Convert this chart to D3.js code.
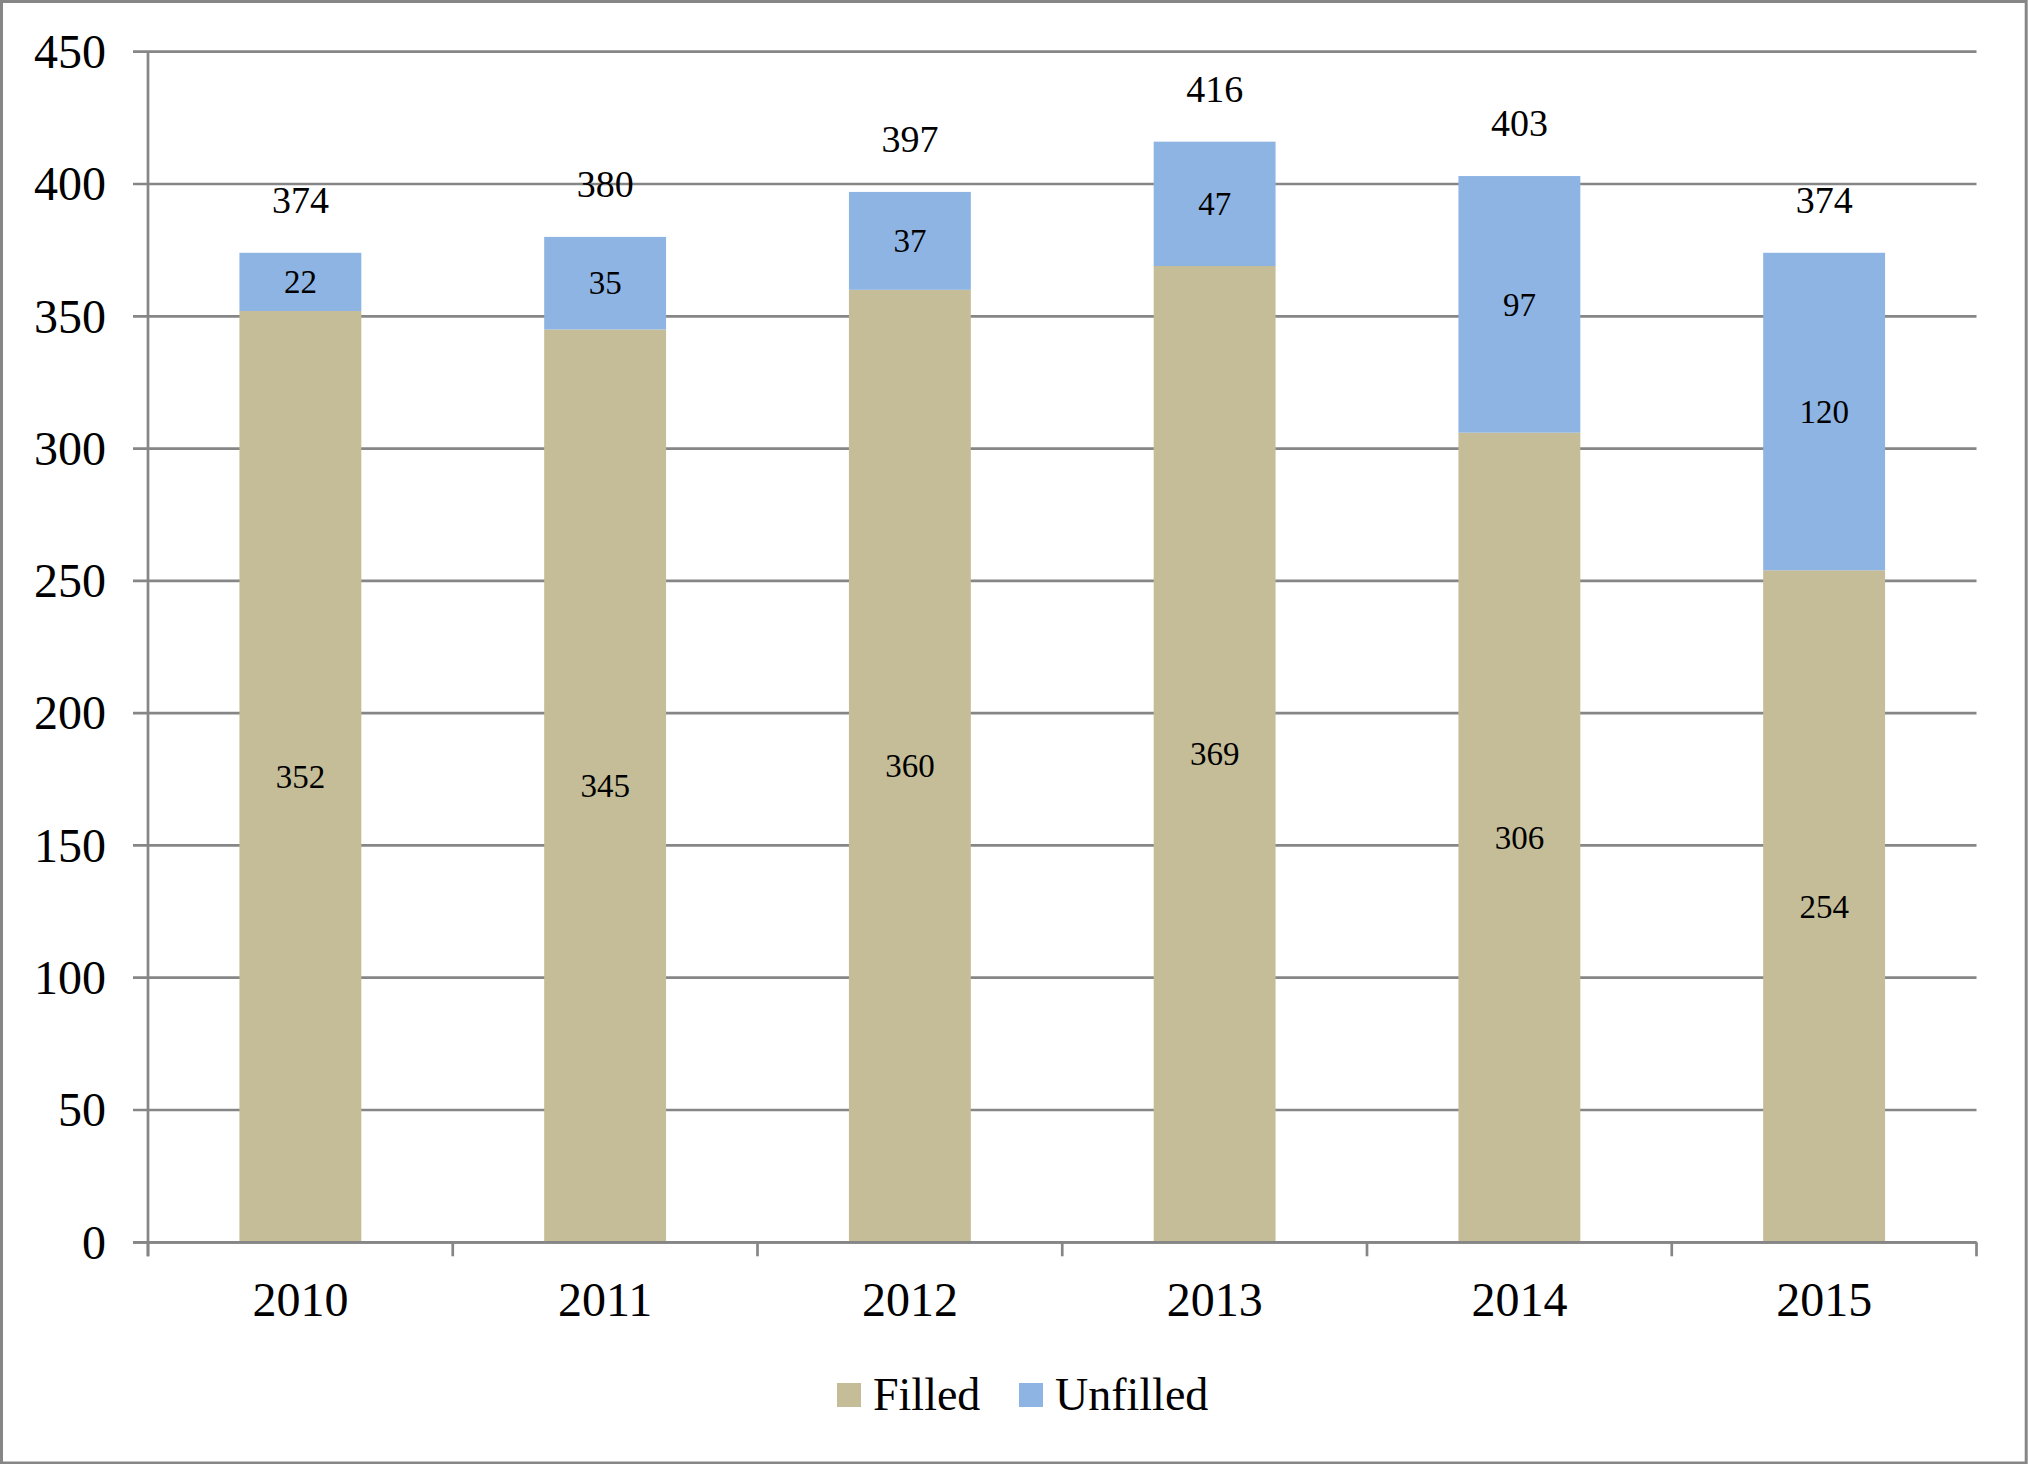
<!DOCTYPE html>
<html>
<head>
<meta charset="utf-8">
<script src="https://cdn.jsdelivr.net/npm/d3@7"></script>
<style>
  html, body { margin: 0; padding: 0; background: #fff; }
  svg { display: block; }
  text { font-family: "Liberation Serif", "DejaVu Serif", serif; fill: #000; }
</style>
</head>
<body>
<script>
const years = ["2010", "2011", "2012", "2013", "2014", "2015"];
const filled = [352, 345, 360, 369, 306, 254];
const unfilled = [22, 35, 37, 47, 97, 120];
const totals = [374, 380, 397, 416, 403, 374];
const yTicks = [0, 50, 100, 150, 200, 250, 300, 350, 400, 450];
const seriesNames = ["Filled", "Unfilled"];
const seriesColors = ["#C4BD97", "#8EB4E3"];

const W = 2028, H = 1464;
const plotL = 148, plotR = 1976.5, plotT = 51.7, plotB = 1242.3;
const gridColor = "#868686";

const svg = d3.select("body").append("svg").attr("width", W).attr("height", H);

// outer border
svg.append("rect").attr("x", 1.5).attr("y", 1.5).attr("width", 2024.7).attr("height", 1461.5)
  .attr("fill", "#fff").attr("stroke", gridColor).attr("stroke-width", 3);

const x = d3.scaleBand().domain(years).range([plotL, plotR]).paddingInner(0).paddingOuter(0);
const y = d3.scaleLinear().domain([0, 450]).range([plotB, plotT]);
const barW = x.bandwidth() * 0.4;

// gridlines + y ticks
svg.append("g").selectAll("line").data(yTicks).join("line")
  .attr("x1", plotL - 15).attr("x2", plotR)
  .attr("y1", d => y(d)).attr("y2", d => y(d))
  .attr("stroke", gridColor).attr("stroke-width", 2.7);

// y labels
svg.append("g").selectAll("text").data(yTicks).join("text")
  .attr("x", 106).attr("y", d => y(d)).attr("dy", "0.34em")
  .attr("text-anchor", "end").attr("font-size", 48).text(d => d);

// bars
const rows = years.map((yr, i) => ({ yr, f: filled[i], u: unfilled[i], t: totals[i] }));
const g = svg.append("g");
g.selectAll("rect.f").data(rows).join("rect").attr("class", "f")
  .attr("x", d => x(d.yr) + (x.bandwidth() - barW) / 2).attr("width", barW)
  .attr("y", d => y(d.f)).attr("height", d => y(0) - y(d.f))
  .attr("fill", seriesColors[0]);
g.selectAll("rect.u").data(rows).join("rect").attr("class", "u")
  .attr("x", d => x(d.yr) + (x.bandwidth() - barW) / 2).attr("width", barW)
  .attr("y", d => y(d.f + d.u)).attr("height", d => y(d.f) - y(d.f + d.u))
  .attr("fill", seriesColors[1]);

// axes lines (y axis, x axis)
svg.append("line").attr("x1", plotL).attr("x2", plotL).attr("y1", plotT).attr("y2", plotB + 14)
  .attr("stroke", gridColor).attr("stroke-width", 2.7);
svg.append("line").attr("x1", plotL - 15).attr("x2", plotR).attr("y1", plotB).attr("y2", plotB)
  .attr("stroke", gridColor).attr("stroke-width", 2.7);
// x ticks at band boundaries
const bounds = years.map(yr => x(yr)).concat([plotR]);
svg.append("g").selectAll("line").data(bounds).join("line")
  .attr("x1", d => d).attr("x2", d => d).attr("y1", plotB).attr("y2", plotB + 14)
  .attr("stroke", gridColor).attr("stroke-width", 2.7);

// x labels
svg.append("g").selectAll("text").data(years).join("text")
  .attr("x", d => x(d) + x.bandwidth() / 2).attr("y", 1316)
  .attr("text-anchor", "middle").attr("font-size", 48).text(d => d);

// segment labels
g.selectAll("text.fl").data(rows).join("text").attr("class", "fl")
  .attr("x", d => x(d.yr) + x.bandwidth() / 2).attr("y", d => (y(0) + y(d.f)) / 2)
  .attr("dy", "0.34em").attr("text-anchor", "middle").attr("font-size", 33).text(d => d.f);
g.selectAll("text.ul").data(rows).join("text").attr("class", "ul")
  .attr("x", d => x(d.yr) + x.bandwidth() / 2).attr("y", d => (y(d.f) + y(d.f + d.u)) / 2)
  .attr("dy", "0.34em").attr("text-anchor", "middle").attr("font-size", 33).text(d => d.u);
// totals
g.selectAll("text.tl").data(rows).join("text").attr("class", "tl")
  .attr("x", d => x(d.yr) + x.bandwidth() / 2).attr("y", d => y(d.t) - 40)
  .attr("text-anchor", "middle").attr("font-size", 38).text(d => d.t);

// legend
const leg = svg.append("g");
const legX = [837, 1019];
seriesNames.forEach((n, i) => {
  leg.append("rect").attr("x", legX[i]).attr("y", 1383).attr("width", 24).attr("height", 24)
    .attr("fill", seriesColors[i]);
  leg.append("text").attr("x", legX[i] + 36).attr("y", 1410).attr("font-size", 46).text(n);
});
</script>
</body>
</html>
